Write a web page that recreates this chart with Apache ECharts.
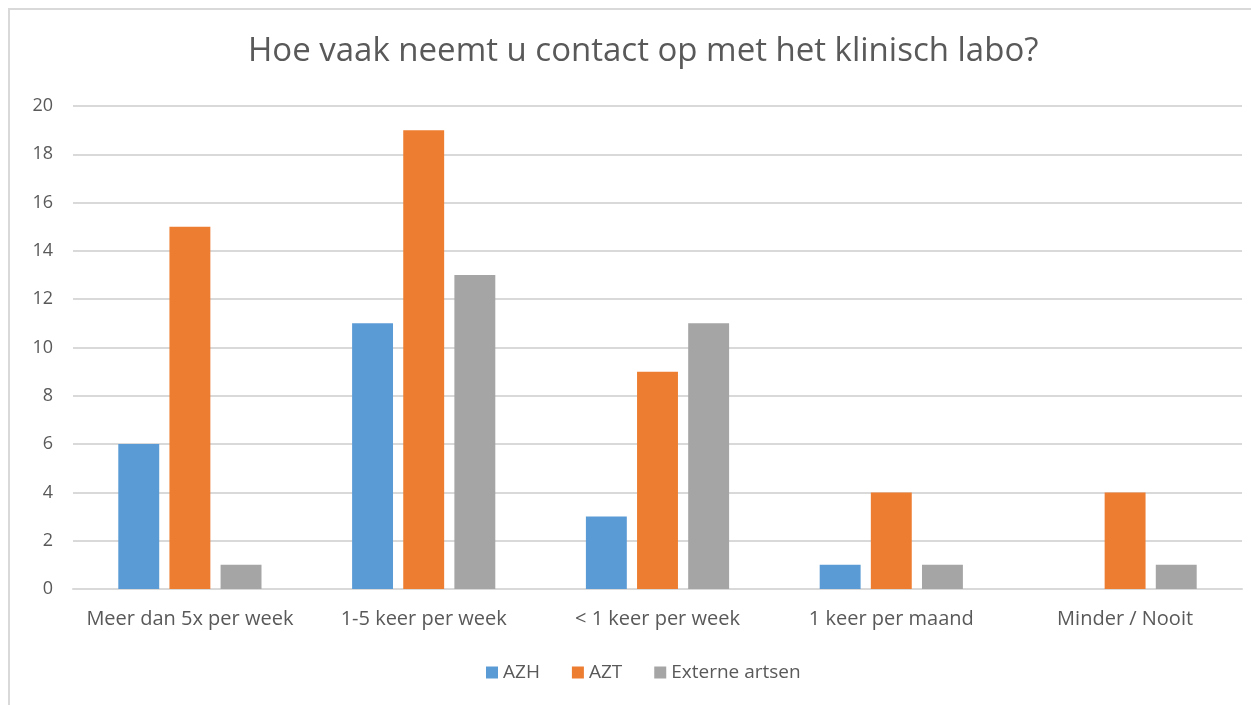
<!DOCTYPE html>
<html>
<head>
<meta charset="utf-8">
<script src="https://cdn.jsdelivr.net/npm/echarts@6/dist/echarts.min.js"></script>
<style>
    html, body { margin: 0; padding: 0; overflow: hidden; background: #fff; }
    #frame { position: absolute; left: 8px; top: 8px; width: 1260px; height: 720px; border: 2px solid #d9d9d9; box-sizing: border-box; }
    #chart { position: absolute; left: 0; top: 0; width: 1251px; height: 705px; }
</style>
</head>
<body>
<div id="frame"></div>
<div id="chart"></div>
<script>
// data
var categories = ['Meer dan 5x per week', '1-5 keer per week', '< 1 keer per week', '1 keer per maand', 'Minder / Nooit'];
var azh = [6, 11, 3, 1, 0];
var azt = [15, 19, 9, 4, 4];
var extern = [1, 13, 11, 1, 1];
var seriesNames = ['AZH', 'AZT', 'Externe artsen'];

var chart = echarts.init(document.getElementById('chart'));
var font = '"Open Sans", "Noto Sans", sans-serif';
var option = {
    backgroundColor: 'transparent',
    color: ['#5B9BD5', '#ED7D31', '#A5A5A5'],
    title: {
        text: 'Hoe vaak neemt u contact op met het klinisch labo?',
        left: 243,
        top: 30,
        textStyle: { fontFamily: font, fontSize: 33, fontWeight: 'normal', color: '#595959' }
    },
    legend: {
        data: seriesNames,
        bottom: 18,
        left: 481,
        icon: 'rect',
        itemWidth: 12,
        itemHeight: 12,
        itemGap: 32,
        textStyle: { fontFamily: font, fontSize: 19, color: '#595959' }
    },
    grid: { left: 73, right: 9, top: 106, bottom: 116 },
    xAxis: {
        type: 'category',
        data: categories,
        axisLine: { lineStyle: { color: '#d9d9d9', width: 2 } },
        axisTick: { show: false },
        axisLabel: { fontFamily: font, fontSize: 20, color: '#595959', margin: 20, interval: 0 }
    },
    yAxis: {
        type: 'value',
        min: 0,
        max: 20,
        interval: 2,
        axisLine: { show: false },
        axisTick: { show: false },
        splitLine: { lineStyle: { color: '#d9d9d9', width: 2 } },
        axisLabel: { fontFamily: font, fontSize: 18, color: '#595959', margin: 20 }
    },
    series: [
        { name: seriesNames[0], type: 'bar', data: azh, barWidth: '17.5%', barGap: '25%' },
        { name: seriesNames[1], type: 'bar', data: azt, barWidth: '17.5%', barGap: '25%' },
        { name: seriesNames[2], type: 'bar', data: extern, barWidth: '17.5%', barGap: '25%' }
    ]
};
chart.setOption(option);
</script>
</body>
</html>
